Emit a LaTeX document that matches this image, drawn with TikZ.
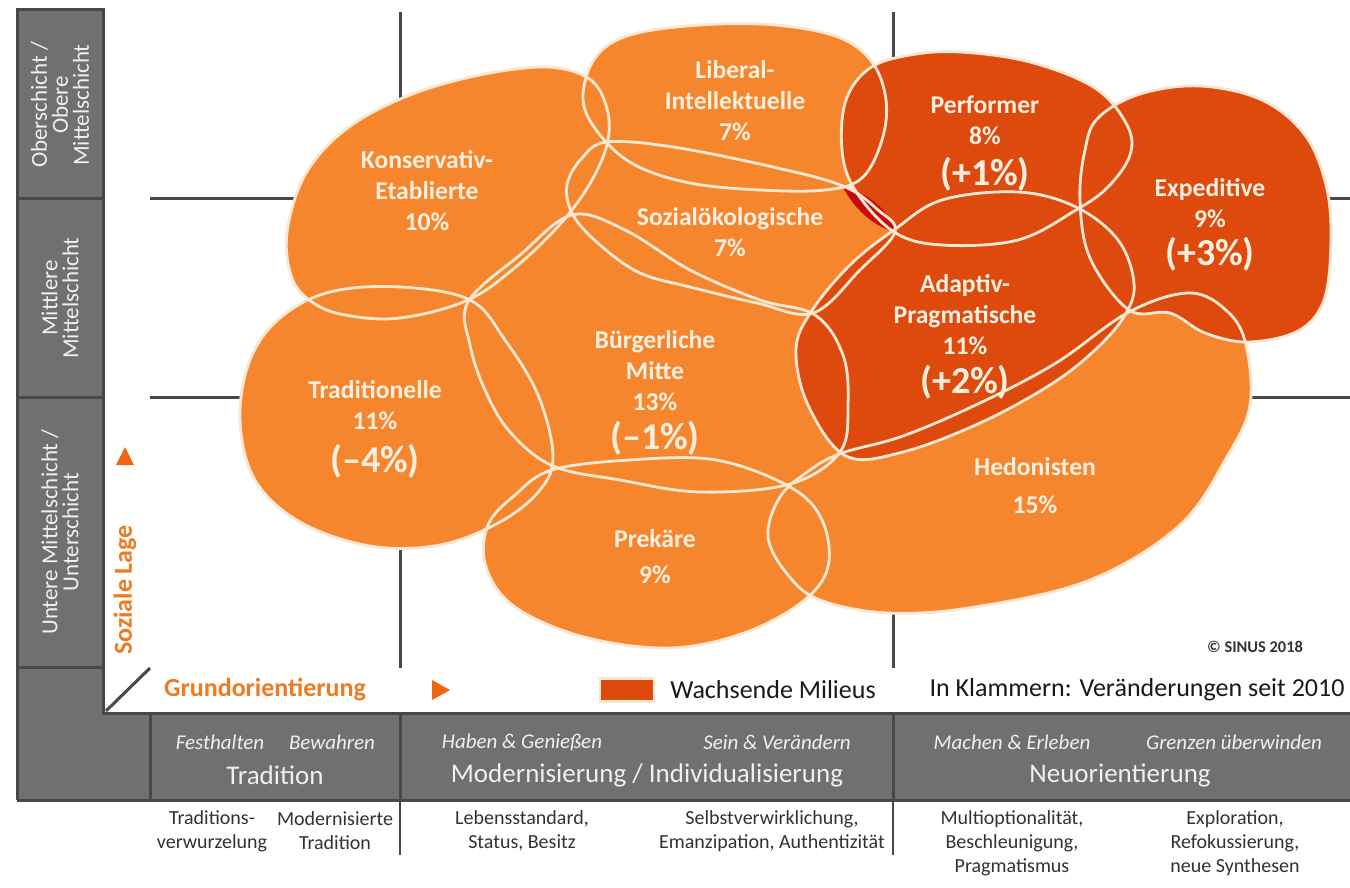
\documentclass[tikz,border=0pt]{standalone}
\usepackage{fontspec}
\setmainfont{Carlito}
\definecolor{milorange}{RGB}{246,134,46}
\definecolor{mildark}{RGB}{222,74,14}
\definecolor{milred}{RGB}{196,12,10}
\definecolor{cream}{RGB}{252,232,210}
\definecolor{lbltext}{RGB}{253,240,225}
\definecolor{axgray}{RGB}{112,112,112}
\definecolor{axdark}{RGB}{72,72,72}
\definecolor{axorange}{RGB}{240,122,32}
\definecolor{arrorange}{RGB}{240,100,18}
\definecolor{bandtext}{RGB}{240,240,240}
\definecolor{undertext}{RGB}{50,50,50}

\newcommand{\bigpct}[1]{{\fontsize{19}{22}\selectfont #1}}
\newcommand{\blobKons}{plot[smooth cycle, tension=0.6] coordinates {(312,302) (292,278) (287,233) (305,175) (345,130) (405,97) (475,76) (545,67) (588,78) (606,105) (608,140) (592,180) (562,222) (518,265) (468,300) (400,318) (345,315)}}
\newcommand{\blobTrad}{plot[smooth cycle, tension=0.6] coordinates {(470,300) (400,287) (330,292) (280,318) (250,360) (240,420) (255,480) (300,522) (370,546) (440,545) (500,522) (540,490) (553,455) (538,395) (505,340)}}
\newcommand{\blobLib}{plot[smooth cycle, tension=0.6] coordinates {(583,100) (595,58) (630,35) (700,25) (775,25) (838,37) (872,62) (886,100) (882,140) (862,178) (825,190) (760,190) (690,183) (635,165) (600,135)}}
\newcommand{\blobSoz}{plot[smooth cycle, tension=0.6] coordinates {(607,142) (673,147) (773,167) (843,186) (878,210) (895,232) (860,270) (813,313) (757,303) (690,287) (640,273) (600,245) (573,215) (567,185) (582,158)}}
\newcommand{\blobBuerg}{plot[smooth cycle, tension=0.6] coordinates {(468,302) (520,255) (572,215) (625,230) (690,270) (760,300) (815,315) (843,355) (848,405) (840,452) (790,484) (700,492) (620,480) (553,466) (510,432) (485,390) (470,345)}}
\newcommand{\blobPrek}{plot[smooth cycle, tension=0.6] coordinates {(552,470) (630,460) (716,460) (790,487) (822,520) (828,567) (802,602) (744,633) (670,648) (584,637) (515,607) (486,567) (488,525) (515,495)}}
\newcommand{\blobHedo}{plot[smooth cycle, tension=0.6] coordinates {(842,453) (903,436) (980,403) (1056,363) (1129,312) (1190,293) (1228,312) (1246,345) (1250,405) (1228,455) (1180,525) (1090,580) (975,607) (888,613) (820,600) (788,575) (768,537) (780,497) (810,470)}}
\newcommand{\blobPerf}{plot[smooth cycle, tension=0.6] coordinates {(846,100) (870,68) (910,55) (960,52) (1030,62) (1095,88) (1127,125) (1130,155) (1108,187) (1076,210) (1018,240) (942,245) (894,232) (855,190) (842,150)}}
\newcommand{\blobAdapt}{plot[smooth cycle, tension=0.6] coordinates {(894,230) (942,200) (1018,192) (1076,207) (1118,240) (1134,283) (1125,315) (1095,350) (1050,385) (980,423) (903,452) (846,456) (808,405) (796,350) (811,312) (850,265)}}
\newcommand{\blobExped}{plot[smooth cycle, tension=0.6] coordinates {(1098,118) (1140,94) (1200,86) (1262,100) (1305,135) (1326,185) (1331,240) (1324,300) (1298,331) (1248,342) (1205,333) (1170,313) (1129,310) (1090,258) (1080,200) (1085,150)}}

\begin{document}
\begin{tikzpicture}[x=0.5pt,y=-0.5pt,
  gridline/.style={axdark, line width=1.5pt},
  frameline/.style={axdark, line width=1.5pt},
  outline/.style={cream, line width=1.4pt},
  lbl/.style={text=lbltext, align=center, inner sep=0pt, font=\fontsize{12.8}{15.5}\selectfont\bfseries},
  coltext/.style={text=bandtext, align=center, inner sep=0pt, rotate=90, font=\fontsize{11.5}{10.5}\selectfont},
  banditalic/.style={text=bandtext, inner sep=0pt, font=\fontsize{10.5}{12}\selectfont\itshape},
  bandhead/.style={text=bandtext, inner sep=0pt, font=\fontsize{13.5}{16}\selectfont},
  undertxt/.style={text=undertext, align=center, inner sep=0pt, font=\fontsize{10}{12}\selectfont},
  axislbl/.style={text=axorange, inner sep=0pt, font=\fontsize{13}{15}\selectfont\bfseries},
  legtxt/.style={text=black!90, inner sep=0pt, font=\fontsize{13}{15}\selectfont}]
\useasboundingbox (0,0) rectangle (1350,888);
\fill[white] (0,0) rectangle (1350,888);

% grid lines
\draw[gridline] (400,12) -- (400,668);
\draw[gridline] (893,12) -- (893,668);
\draw[gridline] (150,198) -- (1350,198);
\draw[gridline] (150,397) -- (1350,397);

% gray frame
\fill[axgray] (17,10) rectangle (103,800);
\fill[axgray] (17,713) rectangle (1350,800);
\draw[frameline] (17,800) -- (17,10) -- (103,10) -- (103,713) -- (1350,713);
\draw[frameline] (17,800) -- (1350,800);
\draw[frameline] (17,198) -- (103,198);
\draw[frameline] (17,397) -- (103,397);
\draw[frameline] (17,667) -- (103,667);
\draw[frameline] (150,713) -- (150,800);
\draw[frameline] (400,713) -- (400,800);
\draw[frameline] (893,713) -- (893,800);
\draw[frameline] (106,711) -- (150,668);
\draw[axdark, line width=1pt] (400,800) -- (400,855);
\draw[axdark, line width=1pt] (893,800) -- (893,855);

% blobs: light fills
\fill[milorange] \blobKons;
\fill[milorange] \blobTrad;
\fill[milorange] \blobLib;
\fill[milorange] \blobSoz;
\fill[milorange] \blobBuerg;
\fill[milorange] \blobPrek;
\fill[milorange] \blobHedo;
% growing milieus
\fill[mildark] \blobPerf;
\fill[mildark] \blobExped;
\fill[mildark] \blobAdapt;
\fill[milred] (843,187) .. controls (872,194) and (889,212) .. (895,232) .. controls (872,226) and (853,207) .. (843,187) -- cycle;
% outlines
\draw[outline] \blobKons;
\draw[outline] \blobTrad;
\draw[outline] \blobLib;
\draw[outline] \blobSoz;
\draw[outline] \blobBuerg;
\draw[outline] \blobPrek;
\draw[outline] \blobHedo;
\draw[outline] \blobPerf;
\draw[outline] \blobExped;
\draw[outline] \blobAdapt;

% milieu labels
\node[lbl] (kons) at (427,191) {Konservativ-\\Etablierte\\10\%};
\node[lbl] (lib) at (735,101) {Liberal-\\Intellektuelle\\7\%};
\node[lbl] (soz) at (730,232) {Sozialökologische\\7\%};
\node[lbl] (perf) at (985,143) {Performer\\8\%\\[5pt]\bigpct{(+1\%)}};
\node[lbl] (exped) at (1210,225) {Expeditive\\9\%\\[3.5pt]\bigpct{(+3\%)}};
\node[lbl] (adapt) at (965,337) {Adaptiv-\\Pragmatische\\11\%\\[4pt]\bigpct{(+2\%)}};
\node[lbl] (trad) at (375,429) {Traditionelle\\11\%\\[6pt]\bigpct{(--4\%)}};
\node[lbl] (buerg) at (655,393) {Bürgerliche\\Mitte\\13\%\\[4pt]\bigpct{(--1\%)}};
\node[lbl] (hedo) at (1035,486) {Hedonisten\\[3.5pt]15\%};
\node[lbl] (prek) at (655,557) {Prekäre\\[2.5pt]9\%};

% left column
\node[coltext] (cober) at (60,105) {Oberschicht /\\Obere\\Mittelschicht};
\node[coltext] (cmitt) at (60,298) {Mittlere\\Mittelschicht};
\node[coltext] (cunt) at (60,532) {Untere Mittelschicht /\\Unterschicht};

% axes
\fill[arrorange] (116,465) -- (134,465) -- (125,447) -- cycle;
\node[axislbl, rotate=90] (soziale) at (125,590) {Soziale Lage};
\node[axislbl] (grund) at (265,690) {Grundorientierung};
\fill[arrorange] (432,680) -- (432,700) -- (450,690) -- cycle;

% legend
\node[draw=cream, line width=1.2pt, fill=mildark, minimum width=27pt, minimum height=11.5pt, inner sep=0pt] (legbox) at (627,690) {};
\node[legtxt] (legwach) at (773,690) {Wachsende Milieus};
\node[legtxt] (legklam) at (1137,690) {In Klammern: Veränderungen seit 2010};
\node[inner sep=0pt, text=black!80, font=\fontsize{8.2}{10}\selectfont\bfseries] (sinus) at (1255,647) {© SINUS 2018};

% bottom band
\node[banditalic] (festh) at (220,742) {Festhalten};
\node[banditalic] (bewah) at (332,742) {Bewahren};
\node[banditalic] (haben) at (522,742) {Haben \& Genießen};
\node[banditalic] (sein) at (777,742) {Sein \& Verändern};
\node[banditalic] (machen) at (1012,742) {Machen \& Erleben};
\node[banditalic] (grenz) at (1234,742) {Grenzen überwinden};
\node[bandhead] (tradh) at (275,775) {Tradition};
\node[bandhead] (modh) at (647,775) {Modernisierung / Individualisierung};
\node[bandhead] (neuh) at (1120,775) {Neuorientierung};

% below band
\node[undertxt] (u1) at (212,831) {Traditions-\\verwurzelung};
\node[undertxt] (u2) at (335,831) {Modernisierte\\Tradition};
\node[undertxt] (u3) at (522,831) {Lebensstandard,\\Status, Besitz};
\node[undertxt] (u4) at (772,831) {Selbstverwirklichung,\\Emanzipation, Authentizität};
\node[undertxt] (u5) at (1012,843) {Multioptionalität,\\Beschleunigung,\\Pragmatismus};
\node[undertxt] (u6) at (1235,843) {Exploration,\\Refokussierung,\\neue Synthesen};
\end{tikzpicture}
\end{document}
